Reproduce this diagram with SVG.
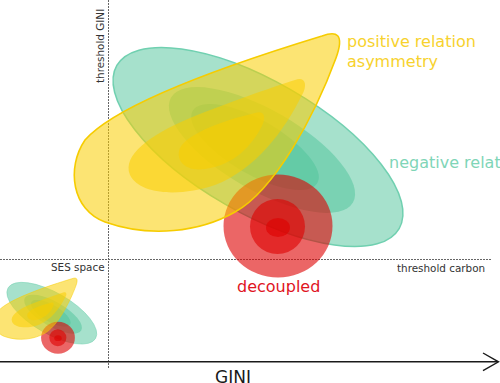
<svg xmlns="http://www.w3.org/2000/svg" xmlns:xlink="http://www.w3.org/1999/xlink" width="500" height="383" viewBox="0 0 500 383">
<style>
  .teal{fill:#4dc399;fill-opacity:0.5}
  .tealo{stroke:#70d0b0;stroke-width:1.5}
  .red{fill:#de0000;fill-opacity:0.6}
  .yel{fill:#facd00;fill-opacity:0.55}
  .yelo{stroke:#f6cc00;stroke-width:1.6}
  .dash{stroke:#666;stroke-width:1;stroke-dasharray:2,1;fill:none}
  .lbl{font-family:"DejaVu Sans",Verdana,sans-serif}
  .small{font-size:10.4px;fill:#333}
  .big{font-size:16px}
</style>
<rect width="500" height="383" fill="#fff"/>
<g id="axes">
  <line class="dash" x1="108.5" y1="0" x2="108.5" y2="368"/>
  <line class="dash" x1="0" y1="259.5" x2="492" y2="259.5"/>
  <line x1="0" y1="361.8" x2="498" y2="361.8" stroke="#1a1a1a" stroke-width="1.4"/>
  <polyline points="483,353 498.5,361.8 483,370.6" fill="none" stroke="#1a1a1a" stroke-width="1.4"/>
</g>
<g id="cluster">
  <g id="negative">
    <ellipse class="teal tealo" cx="258" cy="147" rx="163" ry="66" transform="rotate(30 258 147)"/>
    <ellipse class="teal" cx="262" cy="150" rx="105" ry="40" transform="rotate(30 262 150)"/>
    <ellipse class="teal" cx="255" cy="147" rx="72" ry="27" transform="rotate(30 255 147)"/>
  </g>
  <g id="decoupled">
    <ellipse class="red" cx="278" cy="226" rx="54.5" ry="51.5"/>
    <circle class="red" cx="277.5" cy="226.5" r="27.5"/>
    <ellipse class="red" cx="278" cy="227.5" rx="12" ry="9.5"/>
  </g>
  <g id="positive">
    <path class="yel yelo" d="M322,36 C336,31 345,33 336,58 C315,115 275,190 235,212 C200,232 150,238 105,222 C72,210 66,168 85,140 C120,100 250,58 322,36 Z"/>
    <path class="yel" d="M295,80 C305,76 308,85 302,95 C285,130 255,170 215,185 C180,197 140,195 130,175 C122,155 150,135 190,118 C230,102 270,88 295,80 Z"/>
    <path class="yel" d="M255,113 C265,110 266,118 262,126 C252,145 235,165 205,169 C185,172 175,160 180,148 C188,133 225,120 255,113 Z"/>
  </g>
</g>
<g id="ses-cluster">
  <use xlink:href="#cluster" href="#cluster" transform="translate(58,338) scale(0.31) translate(-278,-227)"/>
</g>
<g id="labels">
  <text class="lbl small" transform="translate(104,83) rotate(-90)">threshold GINI</text>
  <text class="lbl small" x="51" y="271">SES space</text>
  <text class="lbl small" x="397" y="272">threshold carbon</text>
  <text class="lbl big" x="347" y="47" fill="#f7d22e">positive relation</text>
  <text class="lbl big" x="347" y="67" fill="#f7d22e">asymmetry</text>
  <text class="lbl big" x="389" y="168" fill="#7fd5b7">negative relation</text>
  <text class="lbl big" x="237" y="292" fill="#e0141e">decoupled</text>
  <text class="lbl" x="215" y="382.5" font-size="17" fill="#1a1a1a">GINI</text>
</g>
</svg>
